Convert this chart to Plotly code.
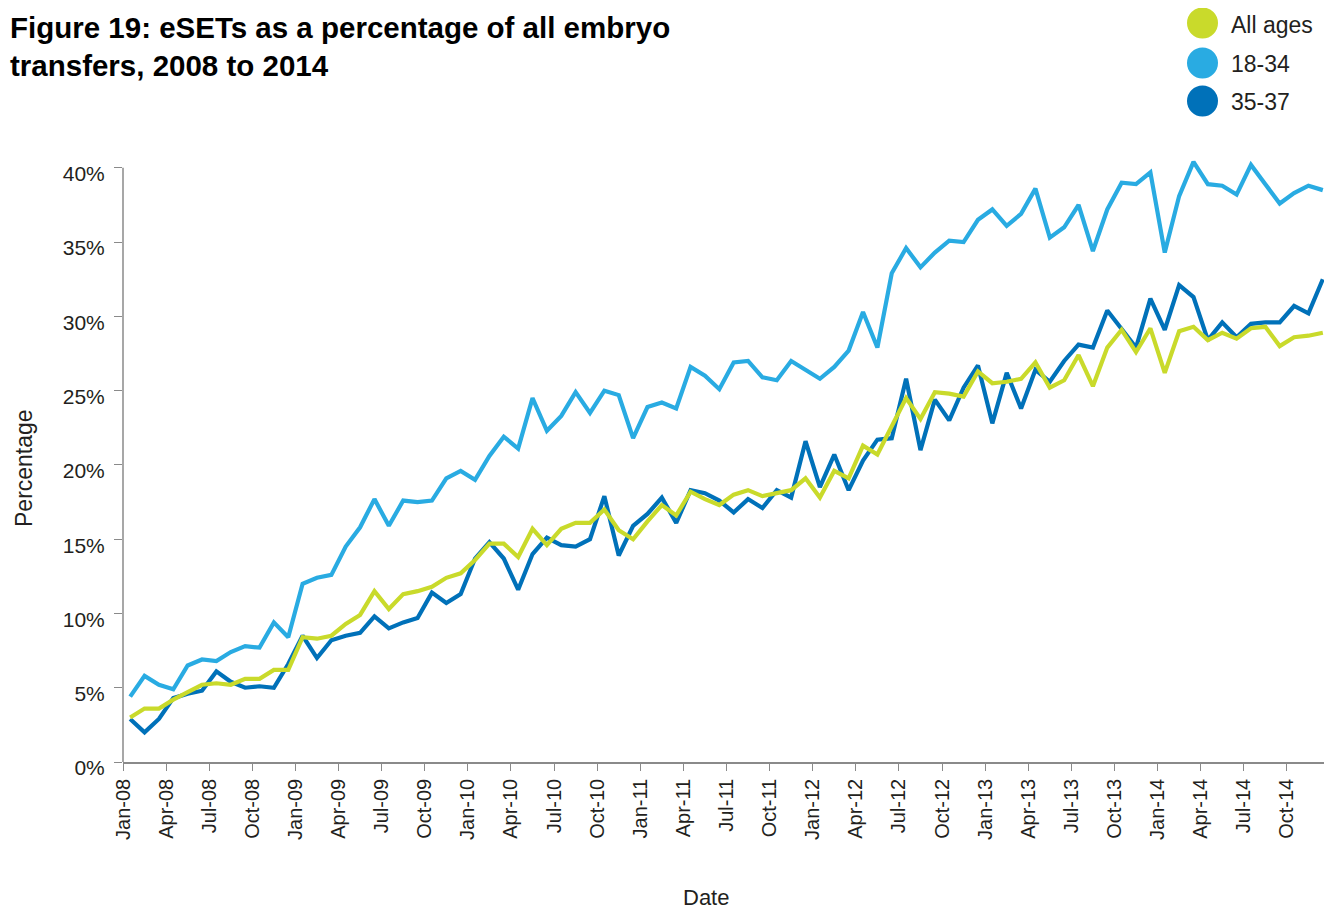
import plotly.graph_objects as go

# monthly values Jan-08 .. Dec-14 (%)
all_ages = [3.0, 3.6, 3.6, 4.2, 4.7, 5.2, 5.3, 5.2, 5.6, 5.6, 6.2, 6.2,
            8.4, 8.3, 8.5, 9.3, 9.9, 11.5, 10.3, 11.3, 11.5, 11.8, 12.4, 12.7,
            13.6, 14.7, 14.7, 13.8, 15.7, 14.6, 15.7, 16.1, 16.1, 17.0, 15.6, 15.0,
            16.2, 17.3, 16.6, 18.2, 17.7, 17.3, 18.0, 18.3, 17.9, 18.1, 18.3, 19.1,
            17.8, 19.6, 19.1, 21.3, 20.7, 22.6, 24.5, 23.1, 24.9, 24.8, 24.6, 26.3,
            25.5, 25.6, 25.8, 26.9, 25.2, 25.7, 27.4, 25.3, 27.9, 29.1, 27.6, 29.2,
            26.2, 29.0, 29.3, 28.4, 28.9, 28.5, 29.2, 29.3, 28.0, 28.6, 28.7, 28.9]

age_18_34 = [4.4, 5.8, 5.2, 4.9, 6.5, 6.9, 6.8, 7.4, 7.8, 7.7, 9.4, 8.4,
             12.0, 12.4, 12.6, 14.5, 15.8, 17.7, 15.9, 17.6, 17.5, 17.6, 19.1, 19.6,
             19.0, 20.6, 21.9, 21.1, 24.5, 22.3, 23.3, 24.9, 23.5, 25.0, 24.7, 21.8,
             23.9, 24.2, 23.8, 26.6, 26.0, 25.1, 26.9, 27.0, 25.9, 25.7, 27.0, 26.4,
             25.8, 26.6, 27.7, 30.3, 27.9, 32.9, 34.6, 33.3, 34.3, 35.1, 35.0, 36.5,
             37.2, 36.1, 36.9, 38.6, 35.3, 36.0, 37.5, 34.4, 37.2, 39.0, 38.9, 39.7,
             34.3, 38.1, 40.4, 38.9, 38.8, 38.2, 40.2, 38.9, 37.6, 38.3, 38.8, 38.5]

age_35_37 = [2.9, 2.0, 2.9, 4.3, 4.6, 4.8, 6.1, 5.4, 5.0, 5.1, 5.0, 6.6,
             8.5, 7.0, 8.2, 8.5, 8.7, 9.8, 9.0, 9.4, 9.7, 11.4, 10.7, 11.3,
             13.7, 14.8, 13.7, 11.6, 14.0, 15.1, 14.6, 14.5, 15.0, 17.9, 13.9, 15.9,
             16.7, 17.8, 16.1, 18.3, 18.1, 17.6, 16.8, 17.7, 17.1, 18.3, 17.8, 21.6,
             18.5, 20.7, 18.3, 20.3, 21.7, 21.8, 25.8, 21.0, 24.4, 23.0, 25.2, 26.7,
             22.8, 26.2, 23.8, 26.4, 25.6, 27.0, 28.1, 27.9, 30.4, 29.2, 27.9, 31.2,
             29.1, 32.1, 31.3, 28.4, 29.6, 28.6, 29.5, 29.6, 29.6, 30.7, 30.2, 32.5]

tick_labels = [m + '-' + y for y in ['08', '09', '10', '11', '12', '13', '14']
               for m in ['Jan', 'Apr', 'Jul', 'Oct']]

series_names = ['35-37', '18-34', 'All ages']
colors = {'All ages': '#c9da2b', '18-34': '#29abe2', '35-37': '#0071b9'}
series = {'All ages': all_ages, '18-34': age_18_34, '35-37': age_35_37}

months = list(range(len(all_ages)))
font = 'Liberation Sans'
ink = '#231f20'
axis_grey = '#8a8a8a'

# page body has an 8px margin, so work in figure pixels = screen - 8
OFF = 8
W, H = 1324, 904
L, R, T, B = 115, 2, 145, 150
pw, ph = W - L - R, H - T - B


def px(x):
    return (x - OFF - L) / pw


def py(y):
    return (H - B - (y - OFF)) / ph


fig = go.Figure()
for name in series_names:
    fig.add_trace(go.Scatter(x=months, y=series[name], mode='lines', name=name,
                             line=dict(color=colors[name], width=4.2),
                             showlegend=False, hoverinfo='x+y+name'))

fig.update_layout(
    width=W, height=H,
    margin=dict(l=L, r=R, t=T, b=B, autoexpand=False),
    plot_bgcolor='white', paper_bgcolor='white',
    font=dict(family=font, color=ink),
    xaxis=dict(range=[-0.5, len(months) - 0.5],
               tickmode='array',
               tickvals=[3 * k - 0.5 for k in range(len(tick_labels))],
               ticktext=tick_labels, tickangle=-90,
               ticks='outside', ticklen=7, tickcolor=axis_grey,
               showline=True, linecolor=axis_grey, linewidth=1.5,
               showgrid=False, zeroline=False, automargin=False,
               tickfont=dict(size=20, color=ink)),
    yaxis=dict(range=[0, 41], tickmode='array',
               tickvals=[0, 5, 10, 15, 20, 25, 30, 35, 40],
               ticktext=['0%', '5%', '10%', '15%', '20%', '25%', '30%', '35%', '40%'],
               ticks='outside', ticklen=8, tickcolor=axis_grey,
               ticklabelstandoff=5, ticklabelshift=6,
               showline=False, showgrid=False, zeroline=False, automargin=False,
               tickfont=dict(size=21, color=ink)),
)

# y axis line only up to 40%
fig.add_shape(type='line', xref='paper', yref='y', x0=0, x1=0, y0=0, y1=40,
              line=dict(color=axis_grey, width=1.5))

# title
fig.add_annotation(text='<b>Figure 19: eSETs as a percentage of all embryo<br>transfers, 2008 to 2014</b>',
                   xref='paper', yref='paper', x=px(8), y=py(9),
                   xanchor='left', yanchor='top', align='left', showarrow=False,
                   font=dict(size=29.5, color='black'))

# axis titles
fig.add_annotation(text='Percentage', xref='paper', yref='paper', x=px(24), y=py(468),
                   xanchor='center', yanchor='middle',
                   textangle=-90, showarrow=False, font=dict(size=23, color=ink))
fig.add_annotation(text='Date', xref='paper', yref='paper', x=px(706), y=py(897),
                   xanchor='center', yanchor='middle',
                   showarrow=False, font=dict(size=22, color=ink))

# legend with big dots
for name, cy, ty in zip(['All ages', '18-34', '35-37'], [23, 63, 101], [25, 64, 102]):
    fig.add_shape(type='circle', xref='paper', yref='paper',
                  xsizemode='pixel', ysizemode='pixel',
                  xanchor=px(1202.5), yanchor=py(cy),
                  x0=-15.5, x1=15.5, y0=-15.5, y1=15.5,
                  fillcolor=colors[name], line=dict(width=0))
    fig.add_annotation(text=name, xref='paper', yref='paper', x=px(1229), y=py(ty),
                       xanchor='left', yanchor='middle', showarrow=False,
                       font=dict(size=23, color=ink))

fig.write_html('out.html')
